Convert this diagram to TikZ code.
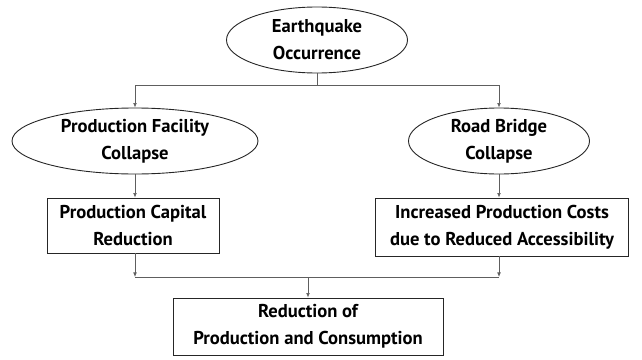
\documentclass[tikz,border=0pt]{standalone}
\usepackage{fontspec}
\setmainfont{PT Sans}
\usetikzlibrary{arrows.meta, positioning, shapes.geometric, calc}
\definecolor{ink}{HTML}{262626}
\definecolor{wire}{HTML}{5E5E5E}

\begin{document}
\begin{tikzpicture}[
  x=1pt, y=-1pt,
  event/.style={draw=ink, ellipse, line width=0.9pt, inner sep=0pt, minimum height=66pt, align=center, font=\bfseries\fontsize{18.6}{27}\selectfont},
  effect/.style={draw=ink, rectangle, line width=0.9pt, inner sep=1pt, align=center, font=\bfseries\fontsize{18.6}{27}\selectfont},
  link/.style={draw=wire, line width=0.7pt},
  >={Latex[length=1.6mm, width=1.3mm]}
]
\useasboundingbox (0,0) rectangle (642,359);

\node[event, minimum width=181pt] (quake) at (317,40) {Earthquake\\Occurrence};
\node[event, minimum width=246pt] (facility) at (135,141) {Production Facility\\Collapse};
\node[event, minimum width=181pt] (bridge) at (499,141) {Road Bridge\\Collapse};
\node[effect, minimum width=172pt, minimum height=55pt] (capital) at (133,225.5) {Production Capital\\Reduction};
\node[effect, minimum width=253pt, minimum height=58pt] (cost) at (502,227) {Increased Production Costs\\due to Reduced Accessibility};
\node[effect, minimum width=270pt, minimum height=57pt] (outcome) at (308,326.5) {Reduction of\\Production and Consumption};

\coordinate (split) at (317,85);
\coordinate (merge) at (308,277);

% earthquake branches
\draw[link] (quake.south) -- (split);
\draw[link, ->] (split) -| (facility.north);
\draw[link, ->] (split) -| (bridge.north);
\draw[link, ->] (facility.south) -- (facility.south |- capital.north);
\draw[link, ->] (bridge.south) -- (bridge.south |- cost.north);

% merge into outcome
\draw[link, ->] (facility.south |- capital.south) -- (facility.south |- merge);
\draw[link, ->] (bridge.south |- cost.south) -- (bridge.south |- merge);
\draw[link] (facility.south |- merge) -- (bridge.south |- merge);
\draw[link, ->] (merge) -- (outcome);
\end{tikzpicture}
\end{document}
